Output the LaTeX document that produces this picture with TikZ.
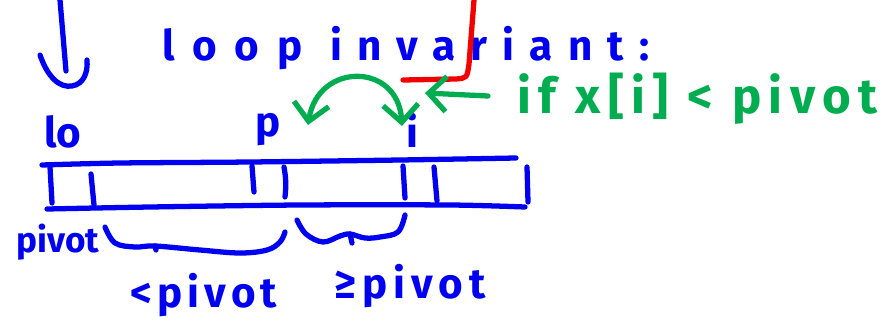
\documentclass[tikz,border=0pt]{standalone}
\usepackage{fontspec}
\setmainfont{Fira Sans}
\usetikzlibrary{arrows.meta}
\definecolor{penblue}{RGB}{0,0,240}
\definecolor{pengreen}{RGB}{0,172,80}
\definecolor{penred}{RGB}{240,0,0}
\tikzset{
  every path/.style={
    line width=3pt,
    line cap=round,
    line join=round
  },
  bpen/.style={draw=penblue},
  gpen/.style={draw=pengreen},
  rpen/.style={draw=penred},
  barb/.tip={Straight Barb[length=10pt,width=20pt]},
  btext/.style={text=penblue, inner sep=0pt, anchor=base west},
  gtext/.style={text=pengreen, inner sep=0pt, anchor=base west}
}

\begin{document}
\begin{tikzpicture}[x=0.02cm, y=-0.02cm]
    \useasboundingbox (0,0) rectangle (888,328);

    % titel
    \node[btext, font=\fontsize{24}{28}\bfseries] (title) at (160,60)
      {\addfontfeature{LetterSpace=42}loop \addfontfeature{LetterSpace=36}invariant:};
    \node[gtext, font=\fontsize{28}{32}\bfseries] (cond) at (515,113)
      {\addfontfeature{LetterSpace=15}if x[i] < pivot};

    % indizes
    \node[btext, font=\fontsize{24}{28}\bfseries] (lo) at (42,147) {lo};
    \node[btext, font=\fontsize{24}{28}\bfseries] (p) at (253,136) {p};
    \node[btext, font=\fontsize{24}{28}\bfseries] (i) at (404,147) {i};

    % pfeil von oben
    \coordinate (top) at (60,0);
    \coordinate (tip) at (66,71);
    \draw[bpen] (top) -- (tip);
    \draw[bpen] (40,55) .. controls (48,78) and (60,88) .. (72,86)
                        .. controls (84,84) and (88,72) .. (87,60);

    % rote linie
    \draw[rpen] (474,0) -- (469,64) .. controls (467,78) .. (456,79) -- (403,80);

    % tausch
    \coordinate (xtail) at (488,96);
    \coordinate (xhead) at (425,93);
    \draw[gpen, -barb] (xtail) -- (xhead);
    \coordinate (swl) at (308,125);
    \coordinate (swr) at (402,126);
    \draw[gpen, barb-barb] (swl) .. controls (318,62) and (398,62) .. (swr);

    % array
    \draw[bpen] plot[smooth] coordinates {(42,165) (120,163) (250,162) (400,160) (516,158)};
    \draw[bpen] plot[smooth] coordinates {(47,209) (150,207) (300,205) (450,205) (525,207)};
    \draw[bpen] (50,167) -- (52,203);
    \draw[bpen] (91,174) -- (94,205);
    \draw[bpen] (252,166) -- (254,192);
    \draw[bpen] (284,167) to[bend left=8] (285,197);
    \draw[bpen] (403,166) -- (405,198);
    \draw[bpen] (434,167) -- (437,201);
    \draw[bpen] (527,167) -- (528,202);

    % klammern
    \draw[bpen] plot[smooth, tension=0.6] coordinates
      {(105,227) (115,243) (135,247) (155,246) (200,250) (240,253) (267,250) (280,242) (285,232)};
    \draw[bpen] (155,246) -- (156,250);
    \draw[bpen] plot[smooth, tension=0.6] coordinates
      {(297,220) (306,234) (323,242) (340,236) (350,234) (365,238) (380,237) (398,232) (405,215)};
    \draw[bpen] (350,234) -- (352,243);

    % beschriftung
    \node[btext, font=\fontsize{20}{24}\bfseries] (pv) at (14,252) {pivot};
    \node[btext, font=\fontsize{24}{28}\bfseries] (lt) at (128,307)
      {\addfontfeature{LetterSpace=12}<pivot};
    \node[btext, font=\fontsize{24}{28}\bfseries] (ge) at (332,298)
      {\addfontfeature{LetterSpace=14}≥pivot};
\end{tikzpicture}
\end{document}
